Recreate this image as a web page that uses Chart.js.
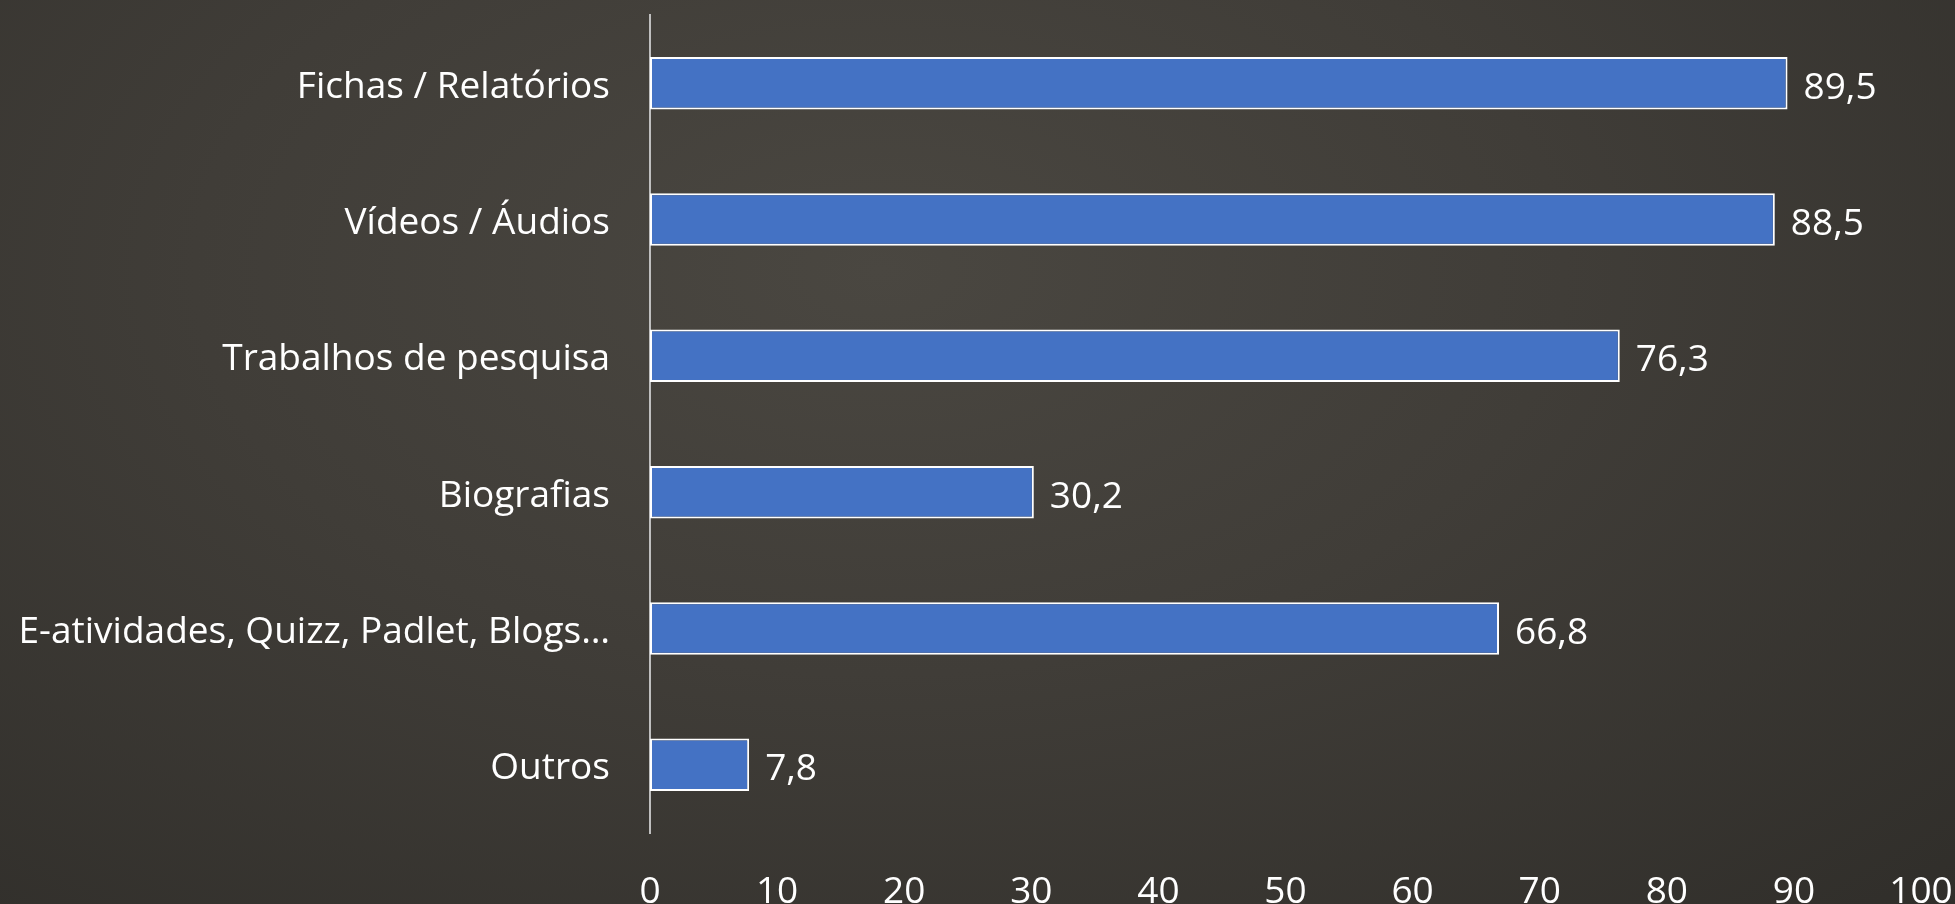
<!DOCTYPE html>
<html>
<head>
<meta charset="utf-8">
<script src="https://cdn.jsdelivr.net/npm/chart.js@4.4.0/dist/chart.umd.min.js"></script>
<style>
    html, body { margin: 0; padding: 0; }
    body {
        width: 1955px;
        height: 904px;
        overflow: hidden;
        background: radial-gradient(ellipse at 45% 30%, #4a4741 0%, #403d38 45%, #302e2a 100%);
    }
    #wrap { width: 1955px; height: 904px; }
</style>
</head>
<body>
<div id="wrap"><canvas id="chart"></canvas></div>
<script>
    const categories = [
        'Fichas / Relatórios',
        'Vídeos / Áudios',
        'Trabalhos de pesquisa',
        'Biografias',
        'E-atividades, Quizz, Padlet, Blogs…',
        'Outros'
    ];
    const values = [89.5, 88.5, 76.3, 30.2, 66.8, 7.8];
    const tickValues = [0, 10, 20, 30, 40, 50, 60, 70, 80, 90, 100];

    const fontFamily = '"Open Sans", Lato, sans-serif';
    const fontSize = 37;

    // value labels to the right of each bar, comma decimal
    const valueLabels = {
        id: 'valueLabels',
        afterDatasetsDraw(chart) {
            const ctx = chart.ctx;
            const meta = chart.getDatasetMeta(0);
            ctx.save();
            ctx.fillStyle = '#ffffff';
            ctx.font = fontSize + 'px ' + fontFamily;
            ctx.textAlign = 'left';
            ctx.textBaseline = 'middle';
            meta.data.forEach((bar, i) => {
                const txt = values[i].toFixed(1).replace('.', ',');
                ctx.fillText(txt, bar.x + 16, bar.y + 5);
            });
            ctx.restore();
        }
    };

    const ctx = document.getElementById('chart').getContext('2d');
    new Chart(ctx, {
        type: 'bar',
        data: {
            labels: categories,
            datasets: [{
                data: values,
                backgroundColor: '#4472c4',
                borderColor: '#ffffff',
                borderWidth: 2,
                borderSkipped: false,
                categoryPercentage: 1,
                barPercentage: 0.385
            }]
        },
        options: {
            indexAxis: 'y',
            responsive: true,
            maintainAspectRatio: false,
            animation: false,
            layout: { padding: { top: 15, right: 34, bottom: 0, left: 0 } },
            plugins: {
                legend: { display: false },
                tooltip: { enabled: false }
            },
            scales: {
                x: {
                    min: 0,
                    max: 100,
                    afterBuildTicks(axis) {
                        axis.ticks = tickValues.map(v => ({ value: v }));
                    },
                    afterFit(axis) {
                        axis.height = 71;
                        axis.paddingLeft = 0;
                        axis.paddingRight = 0;
                    },
                    grid: { display: false },
                    border: { display: false },
                    ticks: {
                        color: '#ffffff',
                        padding: 29,
                        maxRotation: 0,
                        font: { family: fontFamily, size: fontSize }
                    }
                },
                y: {
                    afterFit(axis) {
                        axis.width = 650;
                        axis.paddingTop = 0;
                        axis.paddingBottom = 0;
                    },
                    grid: { display: false },
                    border: { display: true, color: '#bfbfbf', width: 2 },
                    ticks: {
                        color: '#ffffff',
                        padding: 32,
                        labelOffset: 4,
                        font: { family: fontFamily, size: fontSize }
                    }
                }
            }
        },
        plugins: [valueLabels]
    });
</script>
</body>
</html>
